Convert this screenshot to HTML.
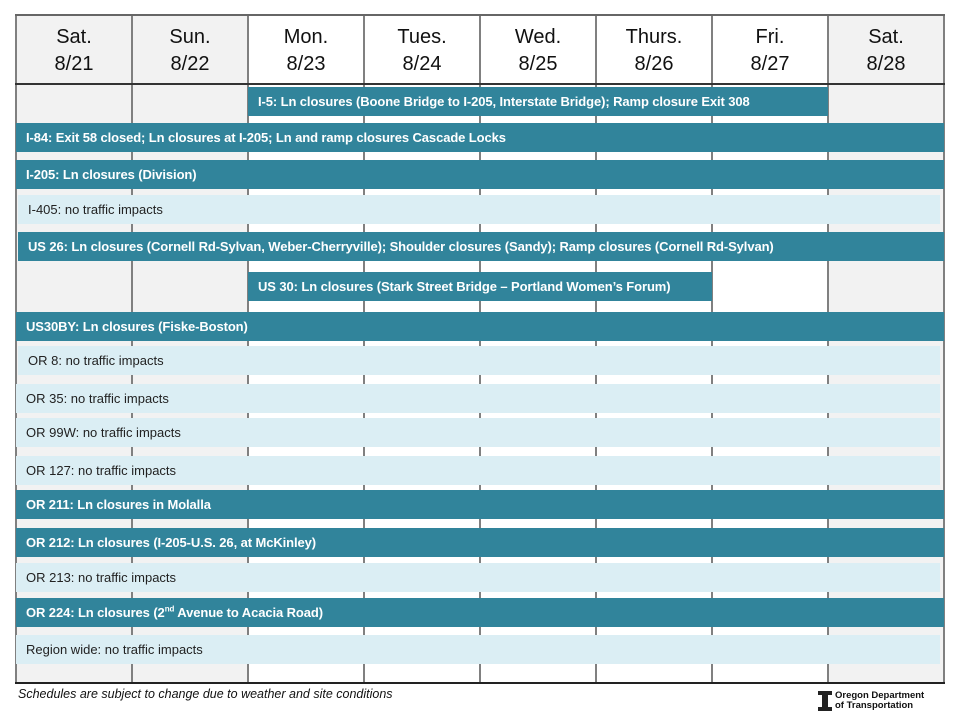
<!DOCTYPE html>
<html><head><meta charset="utf-8"><style>
body{margin:0;width:960px;height:720px;background:#fff;position:relative;font-family:"Liberation Sans",sans-serif;overflow:hidden}
.a{position:absolute}
.col{position:absolute;top:15px;height:668px;border-left:2px solid #808080}
.hd{position:absolute;top:15px;height:70px;width:116px;text-align:center;font-size:20px;line-height:27px;padding-top:9px;box-sizing:border-box;color:#111}
.b{position:absolute;height:29px;line-height:29px;font-size:13px;box-sizing:border-box;white-space:nowrap}
.d{background:#31849b;color:#fff;font-weight:bold;padding-left:10px;letter-spacing:-0.1px}
.l{background:#dbeef4;color:#222;padding-left:10px}
</style></head><body>
<div class="a" style="left:16px;top:15px;width:232px;height:668px;background:#f2f2f2"></div>
<div class="a" style="left:828px;top:15px;width:116px;height:668px;background:#f2f2f2"></div>
<div class="hd" style="left:16px">Sat.<br>8/21</div>
<div class="hd" style="left:132px">Sun.<br>8/22</div>
<div class="hd" style="left:248px">Mon.<br>8/23</div>
<div class="hd" style="left:364px">Tues.<br>8/24</div>
<div class="hd" style="left:480px">Wed.<br>8/25</div>
<div class="hd" style="left:596px">Thurs.<br>8/26</div>
<div class="hd" style="left:712px">Fri.<br>8/27</div>
<div class="hd" style="left:828px">Sat.<br>8/28</div>
<div class="col" style="left:15px"></div>
<div class="col" style="left:131px"></div>
<div class="col" style="left:247px"></div>
<div class="col" style="left:363px"></div>
<div class="col" style="left:479px"></div>
<div class="col" style="left:595px"></div>
<div class="col" style="left:711px"></div>
<div class="col" style="left:827px"></div>
<div class="col" style="left:943px"></div>
<div class="a" style="left:15px;top:14px;width:930px;height:2px;background:#666"></div>
<div class="a" style="left:15px;top:83px;width:930px;height:2px;background:#333"></div>
<div class="a" style="left:15px;top:682px;width:930px;height:2px;background:#222"></div>

<div class="b d" style="left:248px;top:87px;width:580px">I-5: Ln closures (Boone Bridge to I-205, Interstate Bridge); Ramp closure Exit 308</div>
<div class="b d" style="left:16px;top:123px;width:928px">I-84: Exit 58 closed; Ln closures at I-205;  Ln and ramp closures Cascade Locks</div>
<div class="b d" style="left:16px;top:160px;width:928px">I-205:  Ln closures (Division)</div>
<div class="b l" style="left:18px;top:195px;width:922px">I-405: no traffic impacts</div>
<div class="b d" style="left:18px;top:232px;width:926px">US 26: Ln closures (Cornell Rd-Sylvan, Weber-Cherryville); Shoulder closures (Sandy); Ramp closures (Cornell Rd-Sylvan)</div>
<div class="b d" style="left:248px;top:272px;width:464px">US 30: Ln closures (Stark Street Bridge – Portland Women’s Forum)</div>
<div class="b d" style="left:16px;top:312px;width:928px">US30BY:  Ln closures (Fiske-Boston)</div>
<div class="b l" style="left:18px;top:346px;width:922px">OR 8: no traffic impacts</div>
<div class="b l" style="left:16px;top:384px;width:924px">OR 35: no traffic impacts</div>
<div class="b l" style="left:16px;top:418px;width:924px">OR 99W: no traffic impacts</div>
<div class="b l" style="left:16px;top:456px;width:924px">OR 127: no traffic impacts</div>
<div class="b d" style="left:16px;top:490px;width:928px">OR 211:  Ln closures in Molalla</div>
<div class="b d" style="left:16px;top:528px;width:928px">OR 212:  Ln closures (I-205-U.S. 26, at McKinley)</div>
<div class="b l" style="left:16px;top:563px;width:924px">OR 213: no traffic impacts</div>
<div class="b d" style="left:16px;top:598px;width:928px">OR 224:  Ln closures (2<sup style="font-size:8px;line-height:0">nd</sup> Avenue to Acacia Road)</div>
<div class="b l" style="left:16px;top:635px;width:924px">Region wide:  no traffic impacts</div>

<div class="a" style="left:18px;top:687px;font-size:12.5px;font-style:italic;color:#111">Schedules are subject to change due to weather and site conditions</div>
<div class="a" style="left:818px;top:691px;width:14px;height:20px">
<div class="a" style="left:0;top:0;width:14px;height:4px;background:#222"></div>
<div class="a" style="left:4px;top:0;width:6px;height:20px;background:#222"></div>
<div class="a" style="left:0;top:16px;width:14px;height:4px;background:#222"></div></div>
<div class="a" style="left:835px;top:691px;font-size:9.5px;font-weight:bold;line-height:10px;color:#111">Oregon Department<br>of Transportation</div>
</body></html>
